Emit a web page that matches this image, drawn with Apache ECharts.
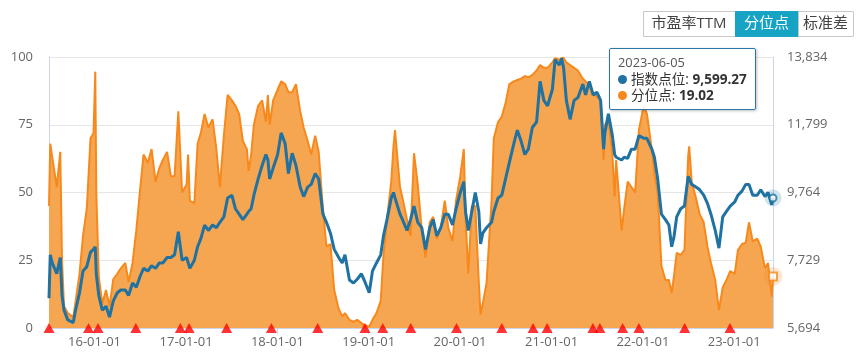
<!DOCTYPE html>
<html>
<head>
<meta charset="utf-8">
<script src="https://cdn.jsdelivr.net/npm/echarts@6/dist/echarts.min.js"></script>
<style>
html,body{margin:0;padding:0;background:#fff;}
#main{width:865px;height:360px;position:relative;}
</style>
</head>
<body>
<div id="main"></div>
<script>
// ---- data ----
const dates = [
'2015-07-03','2015-07-08','2015-07-16','2015-08-03','2015-08-17','2015-08-24','2015-09-01','2015-09-16','2015-10-08','2015-10-16',
'2015-11-02','2015-11-16','2015-12-01','2015-12-16','2015-12-28','2016-01-04','2016-01-08','2016-01-18','2016-02-01','2016-02-16',
'2016-03-01','2016-03-16','2016-04-01','2016-04-15','2016-05-03','2016-05-16','2016-06-01','2016-06-16','2016-07-01','2016-07-15',
'2016-08-01','2016-08-16','2016-09-01','2016-09-16','2016-09-30','2016-10-17','2016-11-01','2016-11-16','2016-12-01','2016-12-16',
'2017-01-03','2017-01-09','2017-01-16','2017-02-03','2017-02-16','2017-03-01','2017-03-16','2017-03-31','2017-04-17','2017-05-02',
'2017-05-16','2017-06-01','2017-06-16','2017-07-03','2017-07-17','2017-08-01','2017-08-16','2017-09-01','2017-09-08','2017-09-18',
'2017-09-29','2017-10-16','2017-11-01','2017-11-16','2017-11-24','2017-12-01','2017-12-15','2018-01-02','2018-01-16','2018-02-01',
'2018-02-14','2018-03-01','2018-03-16','2018-04-02','2018-04-16','2018-05-02','2018-05-16','2018-06-01','2018-06-15','2018-07-02',
'2018-07-16','2018-08-01','2018-08-16','2018-09-03','2018-09-17','2018-09-28','2018-10-16','2018-11-01','2018-11-16','2018-12-03',
'2018-12-17','2019-01-03','2019-01-16','2019-02-01','2019-02-18','2019-03-01','2019-03-15','2019-04-01','2019-04-10','2019-04-16',
'2019-05-06','2019-05-16','2019-06-03','2019-06-17','2019-07-01','2019-07-16','2019-08-01','2019-08-16','2019-09-02','2019-09-16',
'2019-09-30','2019-10-16','2019-11-01','2019-11-15','2019-12-02','2019-12-16','2020-01-02','2020-01-16','2020-01-23','2020-02-03',
'2020-02-17','2020-03-02','2020-03-16','2020-03-23','2020-04-01','2020-04-16','2020-05-06','2020-05-15','2020-06-01','2020-06-16',
'2020-07-01','2020-07-16','2020-08-03','2020-08-17','2020-09-01','2020-09-16','2020-09-30','2020-10-16','2020-11-02','2020-11-16',
'2020-12-01','2020-12-16','2021-01-04','2021-01-15','2021-02-01','2021-02-10','2021-02-18','2021-03-01','2021-03-16','2021-04-01',
'2021-04-16','2021-05-06','2021-05-17','2021-06-01','2021-06-16','2021-07-01','2021-07-16','2021-07-28','2021-08-02','2021-08-16',
'2021-09-01','2021-09-10','2021-09-16','2021-10-08','2021-10-18','2021-11-01','2021-11-16','2021-12-01','2021-12-16','2022-01-04',
'2022-01-17','2022-02-07','2022-02-16','2022-03-01','2022-03-16','2022-04-01','2022-04-15','2022-04-26','2022-05-05','2022-05-16',
'2022-06-01','2022-06-16','2022-07-01','2022-07-05','2022-07-15','2022-08-01','2022-08-16','2022-09-01','2022-09-16','2022-09-30',
'2022-10-17','2022-11-01','2022-11-16','2022-12-01','2022-12-16','2023-01-03','2023-01-16','2023-02-01','2023-02-16','2023-03-01',
'2023-03-16','2023-04-03','2023-04-17','2023-05-04','2023-05-16','2023-05-31','2023-06-05'
];
// 分位点 (percentile, left axis)
const percentile = [
45,68,63,52,65,25,8,5.5,4,9,
20,34,44,70,72,94.6,50,19,9,14,
8,18,20,22,24,17,24,36,51,64,
61,66,54,59,62,65,56,56,80,50,
53,64,47,46,68,72,79,74,77,66,
52,71,86,84,82,79,69,66,58,64,
75,82,84,76,86,75,84,88,91,90,
87,87,90,80,74,69,64,71,65,44,
30,31,14,7,4.3,5.5,3,2.3,3,1.8,
1,0.5,3,5.5,10,27,40,54,67,73,
52,48,40,34,64.5,53,36,26,39,41,
33,37,47,37,32,47,56,66,41,20,
45,45,17,5,9,16.6,47,70,76,78,
83,90,91,91.5,92,93,92.5,93.4,95,97,
96,96,98,99.6,99,99.6,99.6,98,97,96,
95,92,91,89.5,86.7,85.4,84,62,75,77,
64,48.5,62,36,44,54,52,50,73,82,
79,65,57,50,23,17.7,17.7,13,19,27.7,
27,28.8,63.5,67,54,48,42,39,30,24,
17.7,6.6,15,17.7,21,20,28.8,31,31.5,39,
32,33,30,22,24,11.6,19.02
];
// 指数点位 (index level, right axis)
const indexLevel = [
6589,7892,7648,7322,7810,6671,6231,5938,5857,6182,
6752,7403,7534,7973,8055,8136,7322,6671,6231,6345,
6020,6508,6752,6834,6834,6671,7045,6915,7241,7485,
7403,7566,7485,7648,7648,7810,7810,7892,8584,7729,
7810,7810,7485,7729,8136,8380,8787,8624,8787,8706,
8869,9031,9601,9683,9276,9113,8950,9113,9194,9276,
9683,10171,10578,10904,10741,10171,10497,10904,11555,11229,
10334,10944,10578,9927,9642,9927,10008,10334,10171,9113,
8869,8543,8055,7810,7648,7892,7135,7045,7159,7322,
7078,6752,7403,7648,7892,8462,8950,9601,9764,9601,
9113,8950,8624,8950,9357,8869,8706,8055,8706,8950,
8462,8706,9113,9113,8787,9276,9764,10090,9194,8624,
9194,9764,9194,8217,8543,8706,8869,9194,9601,9683,
10171,10659,11229,11636,11311,10904,11066,11718,11880,13101,
12532,12369,12857,13753,13590,13793,13508,12532,11962,12532,
12613,13020,12694,13101,12694,12776,12532,11066,11555,12125,
11473,10904,10822,10741,10822,10790,11066,11066,11473,11392,
11392,11042,10822,10171,9113,8950,8787,8136,8421,9031,
9276,9357,10252,10293,10008,9927,9845,9683,9438,9113,
8624,8095,9031,9194,9357,9479,9683,9805,10008,10008,
9683,9683,9845,9642,9764,9398,9599.27
];
// red triangle markers on the baseline
const markerDates = [
'2015-07-03','2015-12-08','2016-01-15','2016-06-14','2016-12-09','2017-01-13','2017-06-12','2017-12-08',
'2018-06-11','2018-12-17','2019-02-26','2019-06-18','2019-12-18','2020-06-16','2020-10-19','2020-12-14',
'2021-06-15','2021-07-13','2021-10-12','2021-12-16','2022-06-17','2022-12-15'
];
const leftTicks = [0, 25, 50, 75, 100];
const rightTicks = [5694, 7729, 9764, 11799, 13834];
const buttons = ['市盈率TTM', '分位点', '标准差'];
const seriesNames = ['分位点', '指数点位'];

// ---- chart ----
const ORANGE = '#f7891c', ORANGE_FILL = '#f6a650', BLUE = '#1f72a1';
const last = dates.length - 1;
function fmtNum(v, d) {
  const s = Number(v).toFixed(d);
  const parts = s.split('.');
  parts[0] = parts[0].replace(/\B(?=(\d{3})+(?!\d))/g, ',');
  return parts.join('.');
}
function pad(n){ return (n < 10 ? '0' : '') + n; }
const chart = echarts.init(document.getElementById('main'), null, {renderer: 'canvas'});
const FONT = '"Open Sans","Noto Sans CJK SC",sans-serif';

// buttons
const btnWidths = [92, 63, 55];
const btnGraphics = [];
let bx = 643;
buttons.forEach((b, i) => {
  const active = i === 1;
  btnGraphics.push({
    type: 'rect', left: bx, top: 11,
    shape: {width: btnWidths[i], height: 25},
    style: {fill: active ? '#17a3c4' : '#fff', stroke: active ? '#17a3c4' : '#c8c8c8', lineWidth: 1}
  });
  btnGraphics.push({
    type: 'text', x: bx + btnWidths[i] / 2, y: 23.5,
    style: {text: b, fill: active ? '#fff' : '#444', font: '15px ' + FONT, textAlign: 'center', textVerticalAlign: 'middle'}
  });
  bx += btnWidths[i];
});

chart.setOption({
  animation: false,
  textStyle: {fontFamily: FONT},
  grid: {left: 49, right: 92, top: 57, bottom: 32},
  graphic: btnGraphics,
  tooltip: {
    trigger: 'axis',
    alwaysShowContent: true,
    transitionDuration: 0,
    axisPointer: {type: 'none'},
    position: [609, 48],
    backgroundColor: 'rgba(255,255,255,0.93)',
    borderColor: '#2a77a8',
    borderWidth: 1,
    padding: [5, 8],
    extraCssText: 'box-shadow:1px 1px 3px rgba(0,0,0,0.25);border-radius:2px;',
    formatter: function (params) {
      const d = new Date(params[0].axisValue);
      const ds = d.getFullYear() + '-' + pad(d.getMonth() + 1) + '-' + pad(d.getDate());
      const dot = c => '<span style="display:inline-block;width:9px;height:9px;border-radius:50%;background:' + c + ';margin-right:4px;vertical-align:0px"></span>';
      return '<div style="font-family:' + FONT.replace(/"/g, "'") + ';color:#333;font-size:13.6px;line-height:16.5px">' +
        '<div style="font-size:12.8px;color:#555">' + ds + '</div>' +
        '<div>' + dot(BLUE) + seriesNames[1] + ': <b>' + fmtNum(indexLevel[last], 2) + '</b></div>' +
        '<div>' + dot(ORANGE) + seriesNames[0] + ': <b>' + fmtNum(percentile[last], 2) + '</b></div>' +
        '</div>';
    }
  },
  xAxis: {
    type: 'time',
    min: dates[0], max: dates[last],
    splitNumber: 8,
    axisLine: {lineStyle: {color: '#ccd6eb'}},
    axisTick: {show: true, length: 6, lineStyle: {color: '#ccd6eb'}},
    splitLine: {show: false},
    axisLabel: {
      color: '#666', fontSize: 13, margin: 8, hideOverlap: false,
      formatter: function (v) {
        const d = new Date(v);
        return pad(d.getFullYear() % 100) + '-' + pad(d.getMonth() + 1) + '-' + pad(d.getDate());
      }
    }
  },
  yAxis: [{
    type: 'value', min: leftTicks[0], max: leftTicks[leftTicks.length - 1], interval: leftTicks[1] - leftTicks[0],
    position: 'left',
    axisLine: {show: true, lineStyle: {color: '#ccd6eb'}},
    axisTick: {show: false},
    splitLine: {lineStyle: {color: '#e6e6e6'}},
    axisLabel: {color: '#666', fontSize: 13, margin: 16}
  }, {
    type: 'value', min: rightTicks[0], max: rightTicks[rightTicks.length - 1], interval: rightTicks[1] - rightTicks[0],
    position: 'right',
    axisLine: {show: true, lineStyle: {color: '#ccd6eb'}},
    axisTick: {show: false},
    splitLine: {show: false},
    axisLabel: {color: '#666', fontSize: 13, margin: 14, formatter: v => fmtNum(v, 0)}
  }],
  series: [{
    name: seriesNames[0], type: 'line', yAxisIndex: 0,
    data: dates.map((d, i) => [d, percentile[i]]),
    symbol: 'none', showSymbol: false,
    color: ORANGE,
    lineStyle: {color: ORANGE, width: 2},
    areaStyle: {color: ORANGE_FILL, opacity: 1},
    emphasis: {disabled: true},
    z: 2
  }, {
    name: seriesNames[1], type: 'line', yAxisIndex: 1,
    data: dates.map((d, i) => [d, indexLevel[i]]),
    symbol: 'none', showSymbol: false,
    color: BLUE,
    lineStyle: {color: BLUE, width: 3},
    emphasis: {disabled: true},
    z: 3
  }, {
    name: 'marks', type: 'scatter', yAxisIndex: 0,
    data: markerDates.map(d => [d, 0]),
    symbol: 'triangle', symbolSize: [11, 10],
    itemStyle: {color: '#ff0000'},
    clip: false, emphasis: {disabled: true}, z: 5, silent: true
  }, {
    name: 'blueEnd', type: 'scatter', yAxisIndex: 1,
    data: [
      {value: [dates[last], indexLevel[last]], symbol: 'circle', symbolSize: 17, itemStyle: {color: 'rgba(31,114,161,0.25)'}},
      {value: [dates[last], indexLevel[last]], symbol: 'circle', symbolSize: 7, itemStyle: {color: '#fff', borderColor: BLUE, borderWidth: 2}}
    ],
    clip: false, emphasis: {disabled: true}, z: 6, silent: true
  }, {
    name: 'orangeEnd', type: 'scatter', yAxisIndex: 0,
    data: [
      {value: [dates[last], percentile[last]], symbol: 'circle', symbolSize: 19, itemStyle: {color: 'rgba(247,137,28,0.25)'}},
      {value: [dates[last], percentile[last]], symbol: 'rect', symbolSize: 8, itemStyle: {color: '#fff', borderColor: ORANGE, borderWidth: 2}}
    ],
    clip: false, emphasis: {disabled: true}, z: 6, silent: true
  }]
});
function showTip(){ chart.dispatchAction({type: 'showTip', seriesIndex: 1, dataIndex: last}); }
showTip();
setTimeout(showTip, 50);
</script>
</body>
</html>
